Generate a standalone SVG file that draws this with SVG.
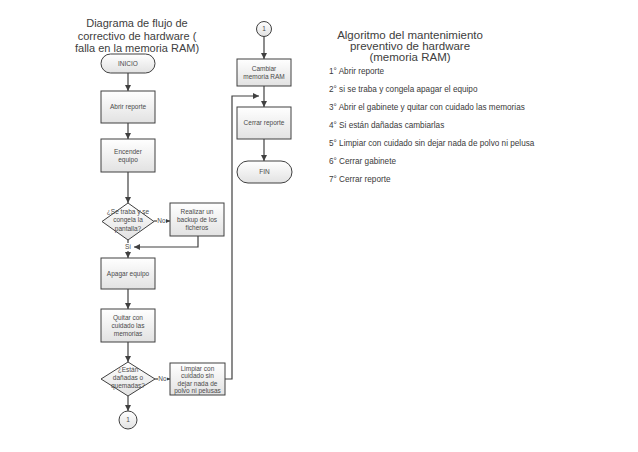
<svg xmlns="http://www.w3.org/2000/svg" width="638" height="452" viewBox="0 0 638 452">
<defs>
<linearGradient id="g" x1="0" y1="0" x2="0" y2="1"><stop offset="0" stop-color="#ffffff"/><stop offset="1" stop-color="#e2e2e2"/></linearGradient>
<marker id="ah" viewBox="0 0 10 10" refX="10" refY="5" markerWidth="6" markerHeight="6" orient="auto" markerUnits="userSpaceOnUse"><path d="M0,0 L10,5 L0,10 z" fill="#404040"/></marker>
</defs>
<style>
.s{fill:url(#g);stroke:#404040;stroke-width:1}
.c{fill:none;stroke:#404040;stroke-width:1.2}
.a{marker-end:url(#ah)}
.t{font-family:"Liberation Sans",Arial,sans-serif;font-size:6.5px;fill:#4a4a4a;text-anchor:middle}
.h{font-family:"Liberation Sans",Arial,sans-serif;font-size:11px;fill:#404040;text-anchor:middle}
.h2{font-family:"Liberation Sans",Arial,sans-serif;font-size:11.5px;fill:#404040;text-anchor:middle}
.l{font-family:"Liberation Sans",Arial,sans-serif;font-size:8.2px;fill:#3a3a3a}
.bg{fill:#ffffff}
</style>
<rect width="638" height="452" fill="#ffffff"/>
<g id="title-left">
<text class="h" x="137" y="27">Diagrama de flujo de</text>
<text class="h" x="137" y="40">correctivo de hardware (</text>
<text class="h" x="137" y="52">falla en la memoria RAM)</text>
</g>
<g id="title-right">
<text class="h2" x="410" y="39">Algoritmo del mantenimiento</text>
<text class="h2" x="410" y="50">preventivo de hardware</text>
<text class="h2" x="410" y="61">(memoria RAM)</text>
</g>
<g id="steps">
<text class="l" x="329" y="74">1° Abrir reporte</text>
<text class="l" x="329" y="92">2° si se traba y congela apagar el equipo</text>
<text class="l" x="329" y="110">3° Abrir el gabinete y quitar con cuidado las memorias</text>
<text class="l" x="329" y="128">4° Si están dañadas cambiarlas</text>
<text class="l" x="329" y="146">5°  Limpiar con cuidado sin dejar nada de polvo ni pelusa</text>
<text class="l" x="329" y="164">6° Cerrar gabinete</text>
<text class="l" x="329" y="182">7° Cerrar reporte</text>
</g>
<g id="connectors">
<path class="c a" d="M128,73 V91"/>
<path class="c a" d="M128,123 V139"/>
<path class="c a" d="M128,172 V203"/>
<path class="c a" d="M154,221 H170"/>
<path class="c a" d="M128,240 V258"/>
<path class="c a" d="M198,236 V247 H134"/>
<path class="c a" d="M128,289 V309"/>
<path class="c a" d="M128,342 V362"/>
<path class="c a" d="M155,379 H170"/>
<path class="c a" d="M128,396 V411"/>
<path class="c a" d="M225,379 H232 V96 H259"/>
<path class="c a" d="M264,36.5 V59"/>
<path class="c a" d="M264,86 V107"/>
<path class="c a" d="M264,139 V161"/>
<rect class="bg" x="157" y="217" width="9" height="8"/>
<text class="t" x="161.5" y="223.3">No</text>
<rect class="bg" x="124" y="243" width="8" height="8"/>
<text class="t" x="128" y="249.3">Sí</text>
<rect class="bg" x="158" y="375" width="9" height="8"/>
<text class="t" x="162.5" y="381.3">No</text>
</g>
<g id="inicio">
<rect class="s" x="101" y="54" width="54" height="19" rx="9.5"/>
<text class="t" x="128" y="65.8">INICIO</text>
</g>
<g id="abrir">
<rect class="s" x="101" y="91" width="54" height="32"/>
<text class="t" x="128" y="109.3">Abrir reporte</text>
</g>
<g id="encender">
<rect class="s" x="101" y="139" width="54" height="33"/>
<text class="t" x="128" y="153.5">Encender</text>
<text class="t" x="128" y="161.5">equipo</text>
</g>
<g id="decision1">
<polygon class="s" points="128,203 154,221.5 128,240 102,221.5"/>
<text class="t" x="128" y="214">¿Se traba y se</text>
<text class="t" x="128" y="222.3">congela la</text>
<text class="t" x="128" y="230.6">pantalla?</text>
</g>
<g id="realizar">
<rect class="s" x="170" y="203" width="54" height="33"/>
<text class="t" x="197" y="213.5">Realizar un</text>
<text class="t" x="197" y="221.8">backup de los</text>
<text class="t" x="197" y="230.1">ficheros</text>
</g>
<g id="apagar">
<rect class="s" x="101" y="258" width="54" height="31"/>
<text class="t" x="128" y="275.8">Apagar equipo</text>
</g>
<g id="quitar">
<rect class="s" x="101" y="309" width="54" height="33"/>
<text class="t" x="128" y="319.6">Quitar con</text>
<text class="t" x="128" y="327.9">cuidado las</text>
<text class="t" x="128" y="336.2">memorias</text>
</g>
<g id="decision2">
<polygon class="s" points="128,362 155,379 128,396 101,379"/>
<text class="t" x="128" y="371.5">¿Están</text>
<text class="t" x="128" y="379.8">dañadas o</text>
<text class="t" x="128" y="388.1">quemadas?</text>
</g>
<g id="limpiar">
<rect class="s" x="170" y="363" width="55" height="32"/>
<text class="t" x="197.5" y="370.5">Limpiar con</text>
<text class="t" x="197.5" y="378">cuidado sin</text>
<text class="t" x="197.5" y="385.5">dejar nada de</text>
<text class="t" x="197.5" y="393">polvo ni pelusas</text>
</g>
<g id="conector-1-bottom">
<circle class="s" cx="128" cy="420" r="9"/>
<text class="t" x="128" y="422.3">1</text>
</g>
<g id="conector-1-top">
<circle class="s" cx="264" cy="29" r="7.5"/>
<text class="t" x="264" y="31.3">1</text>
</g>
<g id="cambiar">
<rect class="s" x="237" y="59" width="54" height="27"/>
<text class="t" x="264" y="70.5">Cambiar</text>
<text class="t" x="264" y="78.5">memoria RAM</text>
</g>
<g id="cerrar">
<rect class="s" x="237" y="107" width="54" height="32"/>
<text class="t" x="264" y="125.3">Cerrar reporte</text>
</g>
<g id="fin">
<rect class="s" x="237" y="161" width="55" height="22" rx="11"/>
<text class="t" x="264.5" y="174.3">FIN</text>
</g>
</svg>
